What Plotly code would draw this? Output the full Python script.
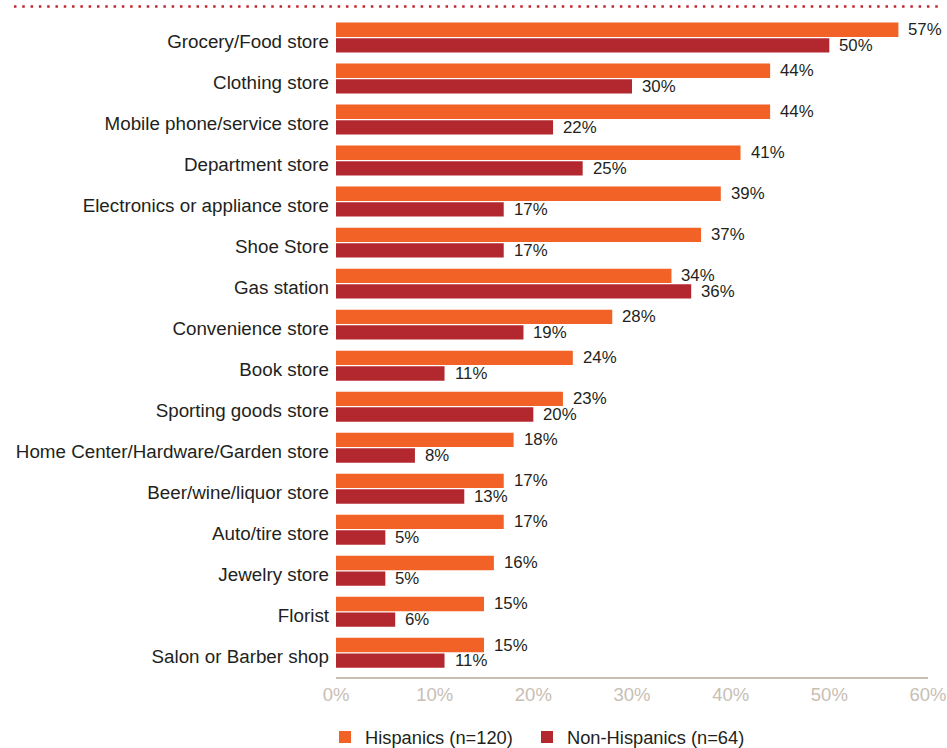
import plotly.graph_objects as go

categories = [
    "Grocery/Food store",
    "Clothing store",
    "Mobile phone/service store",
    "Department store",
    "Electronics or appliance store",
    "Shoe Store",
    "Gas station",
    "Convenience store",
    "Book store",
    "Sporting goods store",
    "Home Center/Hardware/Garden store",
    "Beer/wine/liquor store",
    "Auto/tire store",
    "Jewelry store",
    "Florist",
    "Salon or Barber shop",
]
hispanics = [57, 44, 44, 41, 39, 37, 34, 28, 24, 23, 18, 17, 17, 16, 15, 15]
non_hispanics = [50, 30, 22, 25, 17, 17, 36, 19, 11, 20, 8, 13, 5, 5, 6, 11]
x_ticks = [0, 10, 20, 30, 40, 50, 60]
x_tick_labels = ["0%", "10%", "20%", "30%", "40%", "50%", "60%"]
series_names = ["Hispanics (n=120)", "Non-Hispanics (n=64)"]

ORANGE = "#F26125"
RED = "#B3282E"
GREY = "#C8BEB4"
FONT = "Liberation Sans, Arial, Helvetica, sans-serif"

pos = list(range(len(categories)))

fig = go.Figure()
fig.add_trace(go.Bar(y=pos, x=hispanics, orientation="h", name=series_names[0] + "\u2002",
                     marker=dict(color=ORANGE, line=dict(width=0))))
fig.add_trace(go.Bar(y=pos, x=non_hispanics, orientation="h", name=series_names[1],
                     marker=dict(color=RED, line=dict(width=0))))

bargap = 0.24
half = (1 - bargap) / 4
for vals, off in ((hispanics, -half), (non_hispanics, half)):
    for i, v in enumerate(vals):
        fig.add_annotation(x=v, y=i + off, text=f"{v}%", showarrow=False,
                           xanchor="left", yanchor="middle", xshift=8,
                           font=dict(size=16.8, color="#231F20", family=FONT))

fig.add_shape(type="line", xref="paper", yref="paper", x0=-0.544, x1=1.017,
              y0=1.0159, y1=1.0159,
              line=dict(color="#C0272D", width=2.5, dash="2.5px,5.8px"))

fig.update_layout(
    width=947, height=748,
    margin=dict(l=336, r=19, t=16.5, b=71, autoexpand=False),
    barmode="group", bargap=bargap, bargroupgap=0.08,
    plot_bgcolor="white", paper_bgcolor="white",
    font=dict(family=FONT, color="#231F20"),
    showlegend=True,
    legend=dict(orientation="h", x=-0.0186, xanchor="left", y=-0.091, yanchor="middle",
                font=dict(size=18.3, color="#231F20"), traceorder="normal"),
    xaxis=dict(range=[0, 60], tickvals=x_ticks, ticktext=x_tick_labels,
               showgrid=False, zeroline=False, showline=True, linecolor=GREY,
               linewidth=1.5, ticks="", tickfont=dict(size=18.5, color=GREY)),
    yaxis=dict(range=[15.59, -0.5], tickvals=[p + 0.09 for p in pos], ticktext=categories,
               showgrid=False, zeroline=False, showline=False, ticks="",
               ticklabelstandoff=6,
               tickfont=dict(size=18.8, color="#231F20")),
)

fig.write_html(
    "out.html",
    config={"displayModeBar": False},
    post_script="document.body.style.margin='0';document.body.style.overflow='hidden';",
)
